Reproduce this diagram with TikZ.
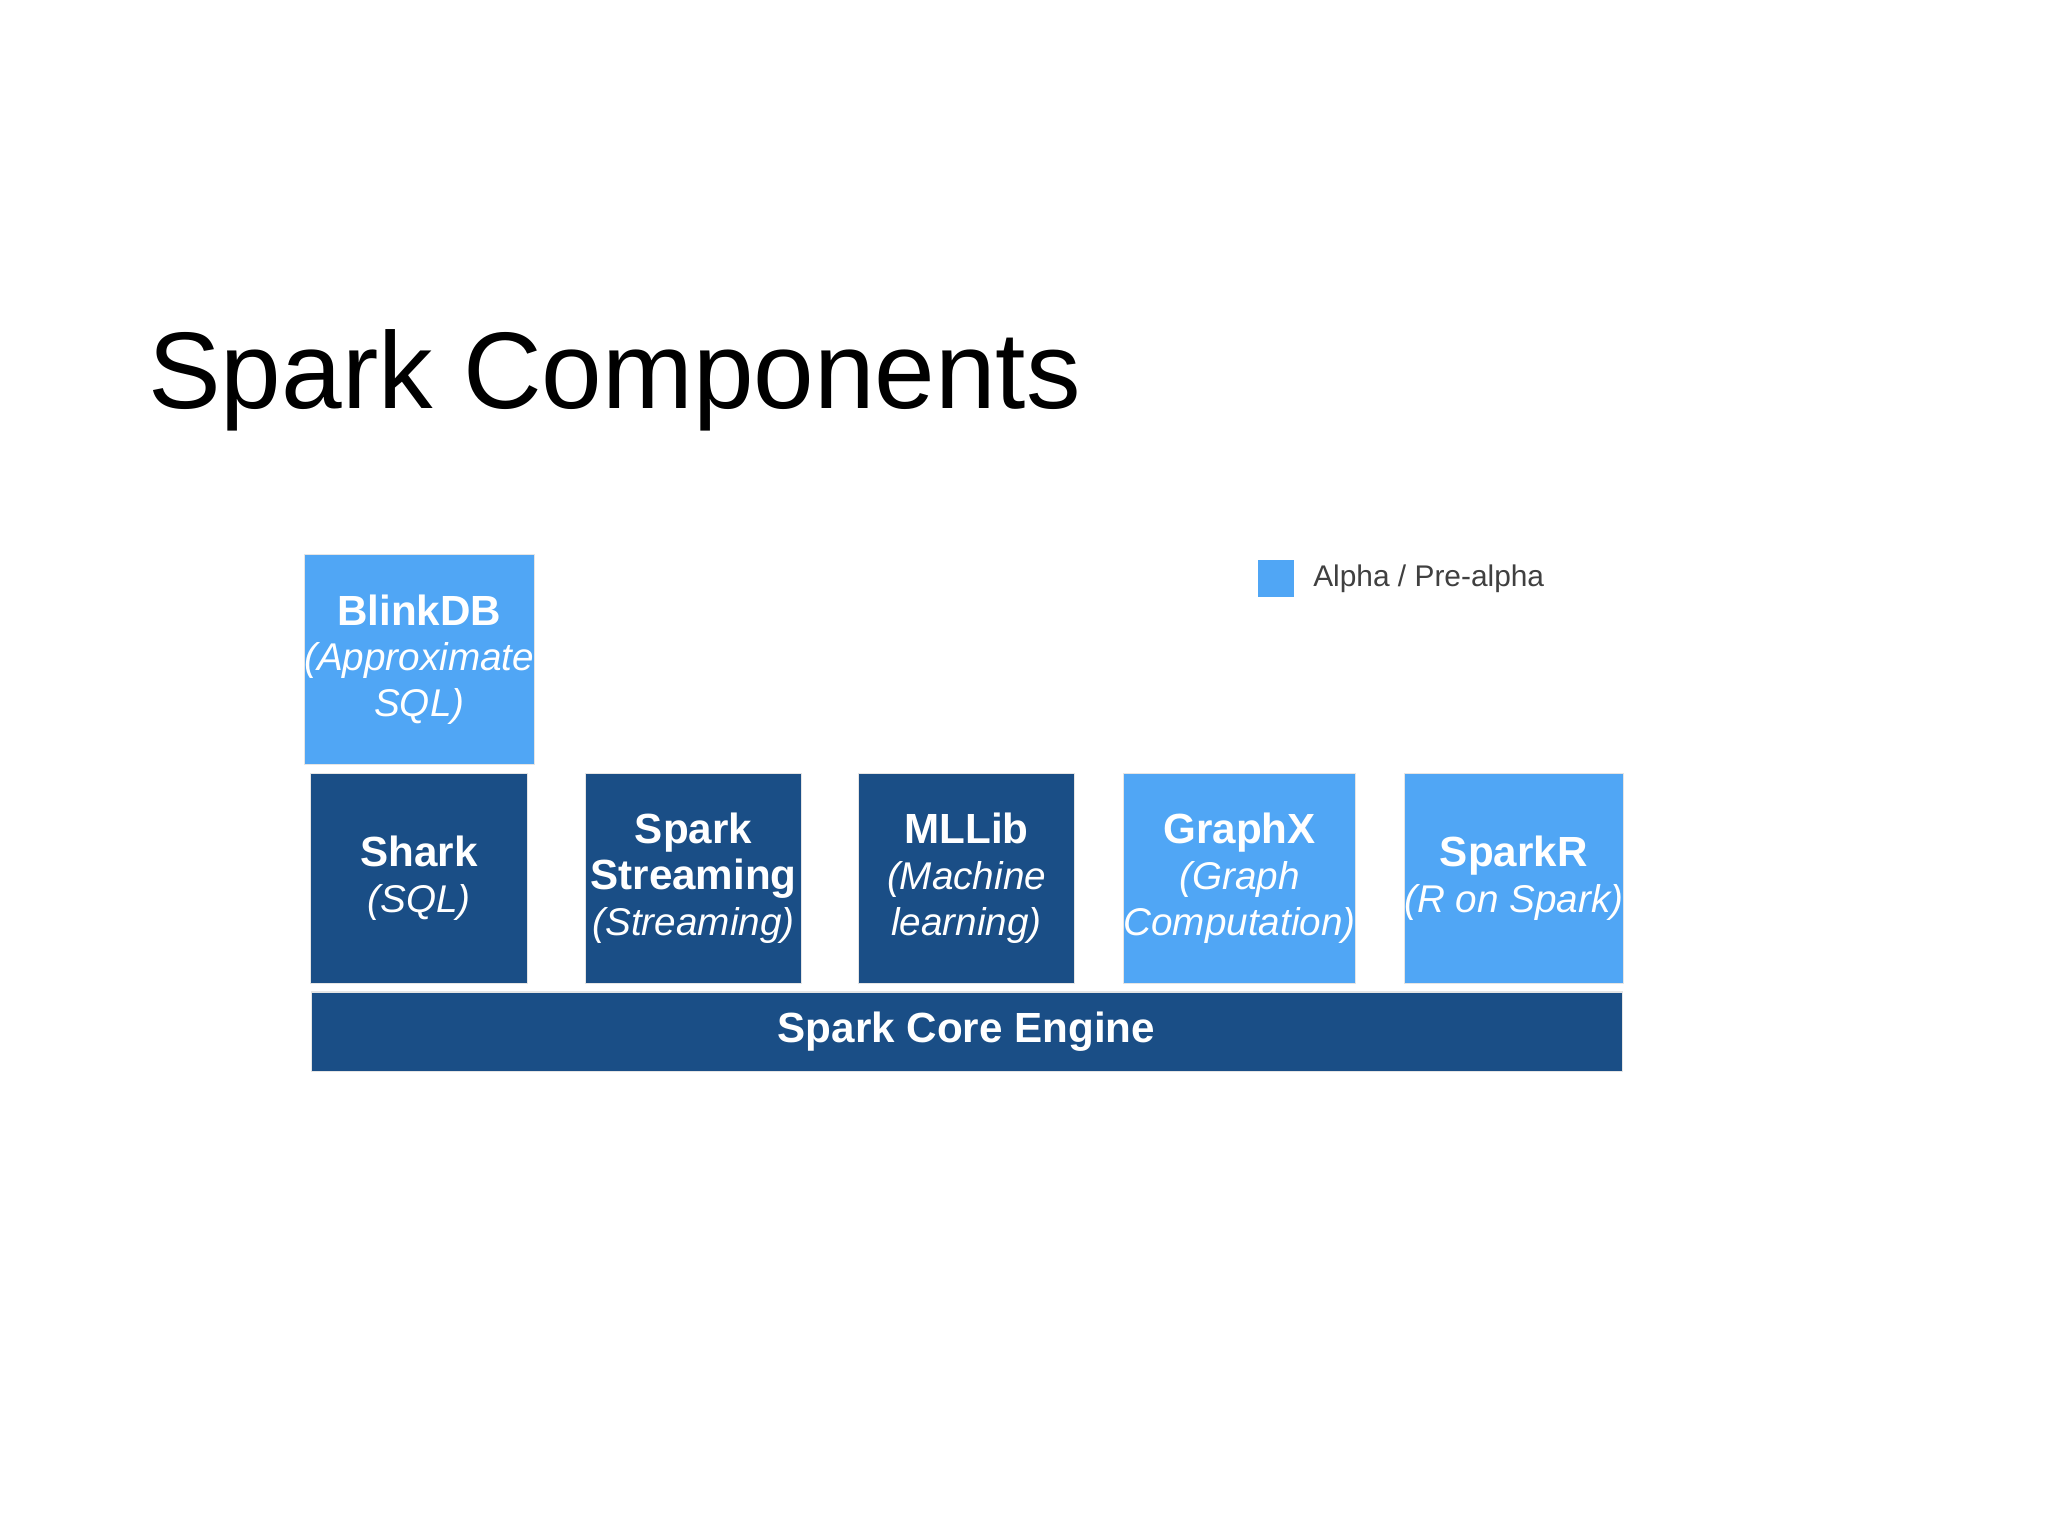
\documentclass[tikz,border=0pt]{standalone}
\usepackage{fontspec}
\setmainfont{Liberation Sans}
\definecolor{dk}{HTML}{1A4E86}
\definecolor{lt}{HTML}{50A6F5}
\newcommand{\boxhd}[1]{\textbf{\fontsize{12}{14}\selectfont #1}}
\newcommand{\boxsb}[1]{\textit{#1}}
\begin{document}
\begin{tikzpicture}[x=0.01306cm,y=-0.01306cm,
  box/.style={draw=white!80!gray,line width=0.3pt,inner sep=0pt,text=white,align=center,font=\fontsize{11}{13}\selectfont,minimum width=2.168cm,minimum height=2.103cm}]
\useasboundingbox (0,0) rectangle (1568,1176);
\node[anchor=base west,font=\fontsize{31}{36}\selectfont] (title) at (104,313) {Spark Components};
\node[box,fill=lt] (blink) at (321,505) {\boxhd{BlinkDB}\\\boxsb{(Approximate}\\\boxsb{SQL)}};
\node[box,fill=dk] (shark) at (321,672.5) {\boxhd{Shark}\\\boxsb{(SQL)}};
\node[box,fill=dk] (stream) at (531,672.5) {\boxhd{Spark}\\\boxhd{Streaming}\\\boxsb{(Streaming)}};
\node[box,fill=dk] (ml) at (740,672.5) {\boxhd{MLLib}\\\boxsb{(Machine}\\\boxsb{learning)}};
\node[box,fill=lt] (graph) at (949,672.5) {\boxhd{GraphX}\\\boxsb{(Graph}\\\boxsb{Computation)}};
\node[box,fill=lt] (sparkr) at (1159,672.5) {\boxhd{SparkR}\\\boxsb{(R on Spark)}};
\node[box,fill=dk,minimum width=13.11cm,minimum height=0.797cm] (core) at (740,790) {\boxhd{Spark Core Engine}};
\node[fill=lt,minimum size=0.366cm,inner sep=0pt] (leg) at (977,443) {};
\node[anchor=west,text=black!75,font=\fontsize{8.5}{10}\selectfont] (legt) at (996,443) {Alpha / Pre-alpha};
\end{tikzpicture}
\end{document}
